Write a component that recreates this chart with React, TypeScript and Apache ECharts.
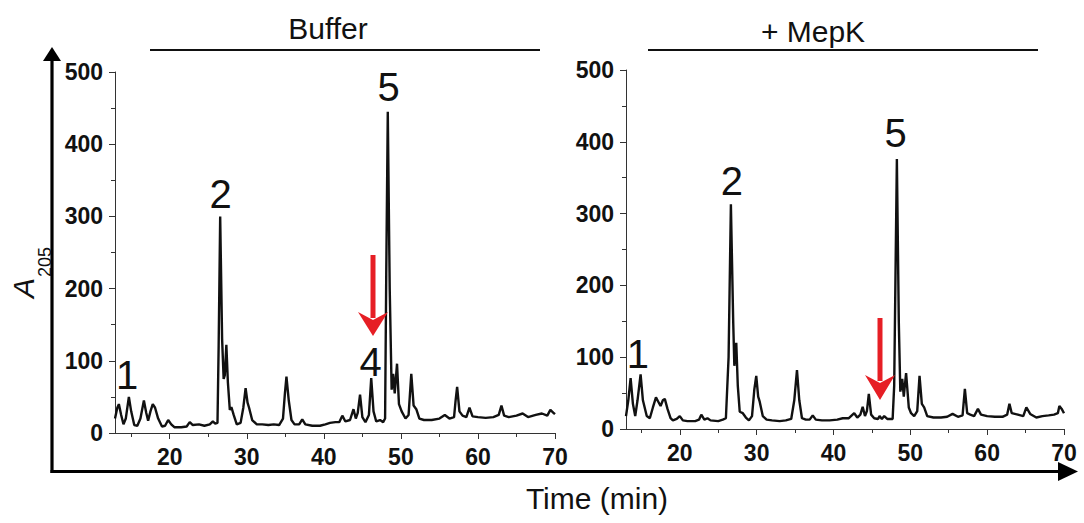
import React, { useEffect, useRef } from "react";
import * as echarts from "echarts";

// ---- Data (retention time in min, A205) ----
const bufferTrace: [number, number][] = [
  [12.9, 20], [13.2, 35], [13.4, 40], [13.7, 25], [14.0, 12], [14.3, 20], [14.7, 50], [15.0, 30], [15.4, 11],
  [15.8, 10], [16.2, 20], [16.65, 45], [16.95, 28], [17.2, 17], [17.5, 30], [17.8, 40], [18.1, 35], [18.5, 20],
  [19.0, 9], [19.4, 10], [19.8, 18], [20.2, 12], [20.6, 8], [21.5, 8], [22.2, 9], [22.6, 15], [23.0, 11],
  [23.8, 12], [24.5, 10], [25.2, 12], [25.6, 16], [25.9, 13], [26.2, 14], [26.35, 120], [26.55, 300], [26.8, 130],
  [27.0, 75], [27.15, 80], [27.35, 122], [27.55, 70], [27.8, 32], [28.0, 36], [28.3, 25], [28.7, 12], [29.2, 14],
  [29.55, 35], [29.85, 62], [30.1, 42], [30.3, 35], [30.7, 18], [31.3, 12], [32.0, 12], [32.8, 11], [33.5, 12],
  [34.2, 11], [34.7, 20], [34.95, 55], [35.15, 78], [35.45, 45], [35.8, 18], [36.2, 12], [36.8, 12], [37.2, 19],
  [37.6, 12], [38.5, 10], [39.5, 10], [40.2, 12], [40.8, 14], [41.5, 15], [42.0, 15], [42.4, 24], [42.8, 16],
  [43.4, 18], [43.85, 33], [44.15, 20], [44.4, 28], [44.7, 53], [45.0, 22], [45.4, 15], [45.85, 25], [46.15, 76],
  [46.45, 30], [46.8, 16], [47.3, 18], [47.7, 15], [47.95, 20], [48.1, 220], [48.3, 445], [48.55, 200], [48.8, 60],
  [49.0, 82], [49.2, 55], [49.5, 96], [49.75, 40], [50.1, 30], [50.6, 20], [51.0, 25], [51.35, 82], [51.65, 38],
  [52.0, 33], [52.4, 20], [53.0, 18], [54.0, 18], [55.0, 20], [55.7, 25], [56.3, 20], [56.9, 22], [57.1, 45],
  [57.3, 64], [57.6, 30], [58.0, 24], [58.5, 22], [58.9, 35], [59.3, 23], [60.0, 22], [61.0, 21], [62.0, 22],
  [62.7, 25], [63.05, 38], [63.4, 24], [64.0, 22], [65.0, 24], [65.8, 27], [66.5, 22], [67.5, 25], [68.3, 27],
  [69.0, 24], [69.4, 32], [69.8, 28], [70.0, 26],
];

const mepkTrace: [number, number][] = [
  [13.0, 18], [13.3, 40], [13.6, 71], [13.9, 35], [14.2, 18], [14.5, 40], [14.9, 76], [15.2, 40], [15.7, 18],
  [16.1, 15], [16.5, 30], [16.9, 44], [17.2, 38], [17.5, 32], [17.8, 40], [18.05, 42], [18.4, 28], [18.8, 15],
  [19.1, 12], [19.6, 14], [20.0, 18], [20.4, 12], [21.0, 11], [22.0, 11], [22.5, 13], [22.8, 20], [23.2, 13],
  [23.6, 15], [24.0, 12], [25.0, 11], [25.6, 13], [26.0, 15], [26.35, 100], [26.65, 313], [26.95, 150], [27.1, 88],
  [27.35, 120], [27.55, 60], [27.8, 24], [28.2, 22], [28.6, 16], [29.0, 12], [29.4, 18], [29.7, 55], [29.95, 74],
  [30.2, 45], [30.4, 38], [30.8, 18], [31.3, 13], [32.0, 12], [33.0, 11], [33.8, 12], [34.5, 14], [34.9, 40],
  [35.25, 82], [35.55, 40], [35.9, 15], [36.4, 13], [36.9, 13], [37.3, 19], [37.7, 13], [38.5, 12], [39.5, 12],
  [40.5, 13], [41.2, 15], [42.0, 15], [42.7, 22], [43.1, 16], [43.5, 20], [43.8, 31], [44.1, 18], [44.35, 25],
  [44.6, 49], [44.9, 20], [45.3, 15], [45.8, 14], [46.0, 18], [46.3, 14], [46.6, 18], [47.0, 14], [47.7, 14],
  [47.9, 60], [48.25, 376], [48.5, 150], [48.7, 52], [48.95, 70], [49.15, 45], [49.45, 78], [49.8, 30], [50.1, 22],
  [50.5, 18], [50.9, 25], [51.2, 74], [51.5, 35], [51.8, 30], [52.2, 18], [53.0, 16], [54.0, 16], [54.8, 17],
  [55.5, 21], [56.2, 17], [56.8, 19], [57.1, 56], [57.4, 22], [57.8, 20], [58.3, 18], [58.8, 28], [59.2, 20],
  [60.0, 18], [61.0, 17], [62.0, 17], [62.6, 20], [62.9, 35], [63.2, 22], [64.0, 20], [64.7, 18], [65.1, 30],
  [65.6, 21], [66.4, 16], [67.2, 18], [68.0, 19], [68.7, 20], [69.2, 22], [69.4, 32], [69.7, 28], [70.0, 22],
];

const bufferPeakLabels = [
  { name: "1", t: 14.48, v: 80 },
  { name: "2", t: 26.62, v: 331 },
  { name: "4", t: 46.08, v: 99 },
  { name: "5", t: 48.42, v: 479 },
];
const mepkPeakLabels = [
  { name: "1", t: 14.54, v: 105 },
  { name: "2", t: 26.77, v: 345 },
  { name: "5", t: 48.1, v: 412 },
];

const majorX = [20, 30, 40, 50, 60, 70];
const minorX = [15, 25, 35, 45, 55, 65];
const panelTitles = ["Buffer", "+ MepK"];
const xTitle = "Time (min)";

const FONT = "'Liberation Sans', Arial, Helvetica, sans-serif";
const AXIS_COLOR = "#333";
const RED = "#e61e25";

function xAxesFor(gridIndex: number, min: number) {
  const common = {
    gridIndex,
    type: "value",
    min,
    max: 70,
    position: "bottom",
    splitLine: { show: false },
  };
  return [
    {
      ...common,
      axisLine: { show: true, lineStyle: { color: AXIS_COLOR, width: 1 } },
      axisTick: { show: true, customValues: majorX, length: 6, lineStyle: { color: AXIS_COLOR, width: 1 } },
      axisLabel: {
        show: true,
        customValues: majorX,
        fontSize: 23,
        fontWeight: "bold",
        color: "#111",
        fontFamily: FONT,
        margin: 12,
      },
    },
    {
      ...common,
      axisLine: { show: false },
      axisTick: { show: true, customValues: minorX, length: 4, lineStyle: { color: AXIS_COLOR, width: 1 } },
      axisLabel: { show: false },
    },
  ];
}

function yAxisFor(gridIndex: number) {
  return {
    gridIndex,
    type: "value",
    min: 0,
    max: 500,
    interval: 100,
    splitLine: { show: false },
    axisLine: { show: true, lineStyle: { color: AXIS_COLOR, width: 1 } },
    axisTick: { show: true, length: 6, lineStyle: { color: AXIS_COLOR, width: 1 } },
    minorTick: { show: true, splitNumber: 2, length: 4, lineStyle: { color: AXIS_COLOR, width: 1 } },
    axisLabel: { fontSize: 23, fontWeight: "bold", color: "#111", fontFamily: FONT, margin: 12 },
  };
}

function traceSeries(data: [number, number][], xi: number, yi: number, labels: { name: string; t: number; v: number }[]) {
  return {
    type: "line",
    xAxisIndex: xi,
    yAxisIndex: yi,
    data,
    showSymbol: false,
    symbol: "none",
    silent: true,
    lineStyle: { color: "#111", width: 2.4 },
    markPoint: {
      silent: true,
      symbol: "circle",
      symbolSize: 1,
      itemStyle: { color: "rgba(0,0,0,0)" },
      label: {
        show: true,
        position: "inside",
        formatter: "{b}",
        fontSize: 40,
        color: "#111",
        fontFamily: FONT,
      },
      data: labels.map((p) => ({ name: p.name, coord: [p.t, p.v] })),
    },
  };
}

function redArrow(x: number, yTop: number, yBarb: number, yTip: number, half: number) {
  return [
    {
      type: "line",
      shape: { x1: x, y1: yTop, x2: x, y2: yBarb + 6 },
      style: { stroke: RED, lineWidth: 5 },
      z: 50,
    },
    {
      type: "polygon",
      shape: {
        points: [
          [x - half, yBarb],
          [x, yBarb + 8],
          [x + half, yBarb],
          [x, yTip],
        ],
      },
      style: { fill: RED },
      z: 50,
    },
  ];
}

export default function App() {
  const ref = useRef<HTMLDivElement>(null);

  useEffect(() => {
    if (!ref.current) return;
    const chart = echarts.init(ref.current, null, { renderer: "svg" });
    const option: any = {
      animation: false,
      backgroundColor: "#ffffff",
      grid: [
        { left: 115, top: 72, width: 440, height: 361 },
        { left: 626, top: 70, width: 438, height: 359 },
      ],
      xAxis: [...xAxesFor(0, 12.9), ...xAxesFor(1, 13)],
      yAxis: [yAxisFor(0), yAxisFor(1)],
      series: [
        traceSeries(bufferTrace, 0, 0, bufferPeakLabels),
        traceSeries(mepkTrace, 2, 1, mepkPeakLabels),
      ],
      graphic: [
        // panel titles and bars
        {
          type: "text",
          x: 328,
          y: 28,
          style: { text: panelTitles[0], fontSize: 30, fontFamily: FONT, fill: "#111", align: "center", verticalAlign: "middle" },
        },
        { type: "line", shape: { x1: 150, y1: 50, x2: 540, y2: 50 }, style: { stroke: "#111", lineWidth: 2 } },
        {
          type: "text",
          x: 813,
          y: 31,
          style: { text: panelTitles[1], fontSize: 30, fontFamily: FONT, fill: "#111", align: "center", verticalAlign: "middle" },
        },
        { type: "line", shape: { x1: 648, y1: 50, x2: 1038, y2: 50 }, style: { stroke: "#111", lineWidth: 2 } },
        // big outer axes with arrows
        { type: "line", shape: { x1: 52, y1: 473, x2: 52, y2: 58 }, style: { stroke: "#000", lineWidth: 3.2 } },
        { type: "polygon", shape: { points: [[52, 47], [43, 61], [61, 61]] }, style: { fill: "#000" } },
        { type: "line", shape: { x1: 50.5, y1: 471.5, x2: 1062, y2: 471.5 }, style: { stroke: "#000", lineWidth: 3.2 } },
        { type: "polygon", shape: { points: [[1078, 471.5], [1058, 462], [1058, 481]] }, style: { fill: "#000" } },
        // axis titles
        {
          type: "text",
          x: 23,
          y: 288,
          rotation: Math.PI / 2,
          style: { text: "A", fontSize: 30, fontStyle: "italic", fontFamily: FONT, fill: "#111", align: "center", verticalAlign: "middle" },
        },
        {
          type: "text",
          x: 45,
          y: 262,
          rotation: Math.PI / 2,
          style: { text: "205", fontSize: 18, fontFamily: FONT, fill: "#111", align: "center", verticalAlign: "middle" },
        },
        {
          type: "text",
          x: 597,
          y: 498,
          style: { text: xTitle, fontSize: 30, fontFamily: FONT, fill: "#111", align: "center", verticalAlign: "middle" },
        },
        // red arrows
        ...redArrow(373, 255, 312, 336, 15),
        ...redArrow(880, 318, 375, 400, 15),
      ],
    };
    chart.setOption(option);
    return () => chart.dispose();
  }, []);

  return (
    <div
      ref={ref}
      style={{ position: "absolute", left: 0, top: 0, width: 1084, height: 523, background: "#fff" }}
    />
  );
}
